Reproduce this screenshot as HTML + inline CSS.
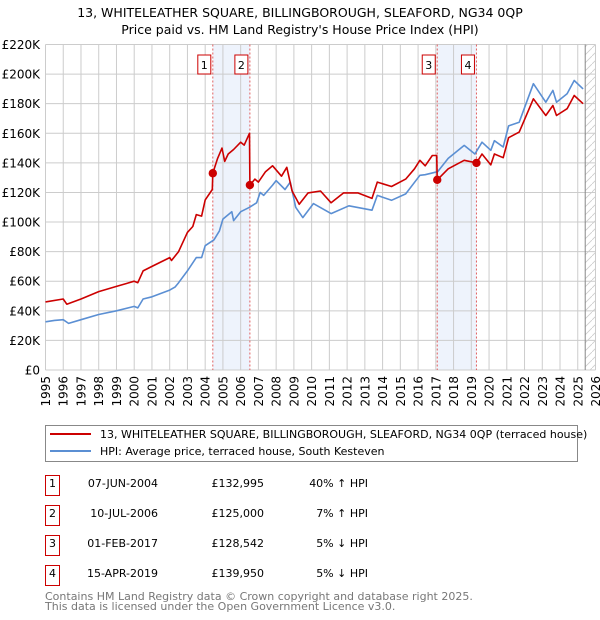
<!DOCTYPE html>
<html><head><meta charset="utf-8"><style>
body{margin:0;background:#fff;font-family:"Liberation Sans","DejaVu Sans",sans-serif;}
#wrap{position:relative;width:600px;height:620px;overflow:hidden}
svg text{font-family:"DejaVu Sans","Liberation Sans",sans-serif}
</style></head><body><div id="wrap">
<svg id="c" width="600" height="620"></svg>
</div>
<script>
const hpiYears=[1995,1995.5,1996,1996.3,1997,1998,1999,2000,2000.2,2000.5,2001,2002,2002.3,2002.5,2003,2003.5,2003.8,2004,2004.5,2004.8,2005,2005.5,2005.6,2006,2006.5,2006.9,2007.1,2007.3,2007.8,2008,2008.5,2008.8,2009.1,2009.5,2010.1,2011.1,2012.1,2013.4,2013.7,2014.5,2015.3,2016.1,2016.4,2017.1,2017.7,2018.6,2019.2,2019.6,2020.1,2020.3,2020.8,2021.1,2021.7,2022.5,2023.2,2023.6,2023.8,2024.4,2024.8,2025.3];
const hpiValues=[32.6,33.5,34,31.5,34,37.5,40,43,42,48,49.5,54,56,59,67,76,76,84,88,94,102,107,101,107,110,113,120,118,125,128,122,127,110,103,112.5,105.7,111,108,118,114.7,119,131.6,132,134,143,151.8,146,154,148.5,155,150.7,165,167.5,193.5,181,189,181,186.7,195.7,190];
const redYears=[1995,1996,1996.2,1997,1998,1999,2000,2000.2,2000.5,2001,2002,2002.1,2002.5,2003,2003.3,2003.5,2003.8,2004,2004.4,2004.43,2004.7,2004.95,2005.1,2005.3,2005.6,2006,2006.2,2006.5,2006.52,2006.8,2007,2007.4,2007.8,2008.3,2008.6,2008.9,2009.3,2009.8,2010.5,2011.1,2011.8,2012.6,2013.4,2013.7,2014.5,2015.3,2015.8,2016.1,2016.4,2016.8,2017.05,2017.08,2017.7,2018.6,2019.29,2019.6,2020.1,2020.3,2020.8,2021.1,2021.7,2022.5,2023.2,2023.6,2023.8,2024.4,2024.8,2025.3];
const redValues=[46,48,44.5,48,53,56.5,60,59,67,70,76,74,80,93,97,105,104,115,122,133,143,150,141,146,149,154,152,160,125,129,127,134,138,131,137,121,112,119.7,121,113,119.7,119.7,116,127,124,129,136,141.7,138,145,145,128.5,136,141.7,140,146,138.6,146,143.5,157,160.8,183.3,172,178.8,172,176.6,185.5,180];
const saleLabels=["1","2","3","4"];
const saleYears=[2004.43,2006.52,2017.08,2019.29];
const saleValues=[132.995,125,128.542,139.95];
const yTicks=[0,20,40,60,80,100,120,140,160,180,200,220];
const yTickLabels=["£0","£20K","£40K","£60K","£80K","£100K","£120K","£140K","£160K","£180K","£200K","£220K"];
const xTicks=[];for(let y=1995;y<=2026;y++)xTicks.push(y);

const NS="http://www.w3.org/2000/svg",svg=document.getElementById('c');
const X0=45.5,X1=595.5,Y0=370,Y1=44.5;
const xs=y=>X0+(y-1995)/31*(X1-X0);
const ys=v=>Y0-v/220*(Y0-Y1);
function el(t,a,txt){const e=document.createElementNS(NS,t);for(const k in a)e.setAttribute(k,a[k]);if(txt!=null)e.textContent=txt;svg.appendChild(e);return e;}

let e=el('text',{x:300,y:17,'text-anchor':'middle','font-size':12.5,fill:'#000'},'13, WHITELEATHER SQUARE, BILLINGBOROUGH, SLEAFORD, NG34 0QP');


e=el('text',{x:300,y:34,'text-anchor':'middle','font-size':12.5,fill:'#000'},"Price paid vs. HM Land Registry's House Price Index (HPI)");



[[0,1],[2,3]].forEach((p,i)=>{
 const r=el('rect',{x:xs(saleYears[p[0]]),y:Y1,width:xs(saleYears[p[1]])-xs(saleYears[p[0]]),height:Y0-Y1,fill:'#eef3fc'});
 
 
});
const hx=xs(2025.42);
const defs=el('defs',{});
defs.innerHTML='<pattern id="h" width="8" height="8" patternUnits="userSpaceOnUse"><path d="M0,8 L8,0" stroke="#ccc" stroke-width="0.8"/></pattern>';
e=el('rect',{x:hx,y:Y1,width:X1-hx,height:Y0-Y1,fill:'url(#h)'});


xTicks.forEach(y=>{const l=el('line',{x1:xs(y),x2:xs(y),y1:Y1,y2:Y0,stroke:'#ccc','stroke-width':1});
 
 
 const t=el('text',{transform:`translate(${xs(y)+4.5},${Y0+6}) rotate(-90)`,'text-anchor':'end','font-size':12,fill:'#000'},String(y));
 
 
});
yTicks.forEach((v,i)=>{const l=el('line',{x1:X0,x2:X1,y1:ys(v),y2:ys(v),stroke:'#ccc','stroke-width':1});
 
 
 const t=el('text',{x:40,y:ys(v)+4.5,'text-anchor':'end','font-size':12,fill:'#000'},yTickLabels[i]);
 
 
});
e=el('line',{x1:hx,x2:hx,y1:Y1,y2:Y0,stroke:'#888','stroke-width':1});


saleYears.forEach((y,i)=>{
 const l=el('line',{x1:xs(y),x2:xs(y),y1:Y1,y2:Y0,stroke:'#e06060','stroke-width':1,'stroke-dasharray':'2,2'});
 
 
 const b=el('rect',{x:xs(y)-15,y:55,width:13,height:19,fill:'#fff',stroke:'#c00','stroke-width':1});
 
 
 const t=el('text',{x:xs(y)-8.5,y:69,'text-anchor':'middle','font-size':11,fill:'#000'},saleLabels[i]);
 
 
});
function path(Y,V,c,n){const d=Y.map((y,i)=>(i?'L':'M')+xs(y).toFixed(1)+','+ys(V[i]).toFixed(1)).join('');
 const p=el('path',{d:d,fill:'none',stroke:c,'stroke-width':1.6,'stroke-linejoin':'round'});
 
 }
path(hpiYears,hpiValues,'#5b8fd3','hpi-line');
path(redYears,redValues,'#cc0000','price-paid-line');
saleYears.forEach((y,i)=>{const c=el('circle',{cx:xs(y),cy:ys(saleValues[i]),r:4.2,fill:'#cc0000'});
 
 });

e=el('rect',{x:45.5,y:425.5,width:532,height:36,fill:'#fff',stroke:'#888','stroke-width':1});


e=el('line',{x1:50,x2:91,y1:434,y2:434,stroke:'#cc0000','stroke-width':2});


e=el('text',{x:100,y:438,'font-size':11,fill:'#000'},'13, WHITELEATHER SQUARE, BILLINGBOROUGH, SLEAFORD, NG34 0QP (terraced house)');


e=el('line',{x1:50,x2:91,y1:451,y2:451,stroke:'#5b8fd3','stroke-width':2});


e=el('text',{x:100,y:455,'font-size':11,fill:'#000'},'HPI: Average price, terraced house, South Kesteven');



const rows=[["07-JUN-2004","£132,995","40% ↑ HPI"],["10-JUL-2006","£125,000","7% ↑ HPI"],["01-FEB-2017","£128,542","5% ↓ HPI"],["15-APR-2019","£139,950","5% ↓ HPI"]];
rows.forEach((r,i)=>{const cy=487+i*30;
 const b=el('rect',{x:45.5,y:cy-11.5,width:14,height:20,fill:'#fff',stroke:'#c00','stroke-width':1});
 
 
 let t=el('text',{x:52.5,y:cy,'text-anchor':'middle','font-size':11},saleLabels[i]);
 
 
 t=el('text',{x:158,y:cy,'text-anchor':'end','font-size':11},r[0]);
 
 
 t=el('text',{x:264,y:cy,'text-anchor':'end','font-size':11},r[1]);
 
 
 t=el('text',{x:368,y:cy,'text-anchor':'end','font-size':11},r[2]);
 
 
});
e=el('text',{x:45,y:600,'font-size':11,fill:'#777'},'Contains HM Land Registry data © Crown copyright and database right 2025.');


e=el('text',{x:45,y:610,'font-size':11,fill:'#777'},'This data is licensed under the Open Government Licence v3.0.');


</script></body></html>
